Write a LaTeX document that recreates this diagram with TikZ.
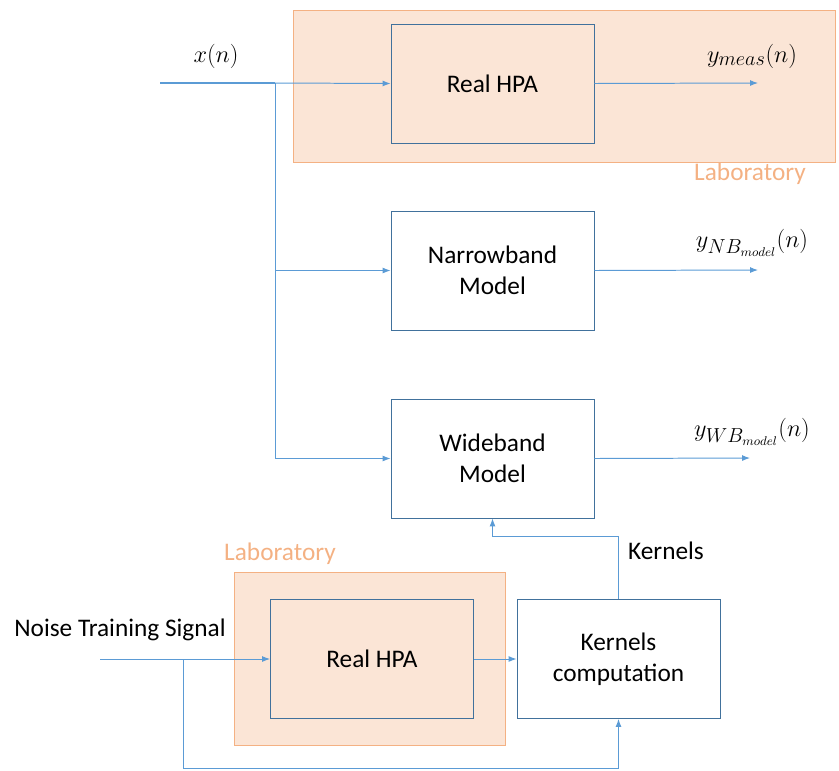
\documentclass[tikz,border=0pt]{standalone}
\usepackage{fontspec}
\setmainfont{Carlito}
\usepackage{amsmath}
\usetikzlibrary{arrows.meta}

\definecolor{labfill}{HTML}{FBE5D6}
\definecolor{labline}{HTML}{F4B183}
\definecolor{boxline}{HTML}{41719C}
\definecolor{sigline}{HTML}{5B9BD5}

\tikzset{
  block/.style={draw=boxline, line width=0.6pt, minimum width=5.075cm, minimum height=2.975cm,
    inner sep=0pt, align=center, font=\fontsize{18}{22}\selectfont},
  sig/.style={draw=sigline, line width=0.7pt},
  labtext/.style={text=labline, font=\fontsize{18}{22}\selectfont},
  plain/.style={font=\fontsize{18}{22}\selectfont},
  mathlbl/.style={font=\fontsize{19}{22}\selectfont}
}

\begin{document}
\begin{tikzpicture}[x=0.025cm, y=-0.025cm, >={Latex[length=2mm,width=1.5mm]}]

\useasboundingbox (0,0) rectangle (839,770);

% laboratory areas
\draw [labline, fill=labfill, line width=0.6pt] (293,10) rectangle (835,162);
\draw [labline, fill=labfill, line width=0.6pt] (234,572) rectangle (505,745);
\node [labtext] (lab1) at (750,174) {Laboratory};
\node [labtext] (lab2) at (280,554) {Laboratory};

% blocks
\node [block, fill=labfill] (hpa) at (492.5,83.5) {Real HPA};
\node [block] (nb) at (492.5,270.5) {Narrowband\\Model};
\node [block] (wb) at (492.5,458.5) {Wideband\\Model};
\node [block, fill=labfill] (hpa2) at (372,659) {Real HPA};
\node [block] (kc) at (618.5,659) {Kernels\\computation};

% signals
\coordinate (in) at (160,83);
\coordinate (split) at (275,83);
\node [mathlbl] (xn) at (216,56) {$x(n)$};

\draw [sig, line width=1.4pt] (in) -- (split);
\draw [sig, ->] (split) -- (hpa.west);
\draw [sig, ->] (split) |- (nb.west);
\draw [sig, ->] (split) |- (wb.west);

\coordinate (out1) at (758,83);
\coordinate (out2) at (758,270);
\coordinate (out3) at (750,458);
\draw [sig, ->] (hpa.east) -- (out1);
\draw [sig, ->] (nb.east) -- (out2);
\draw [sig, ->] (wb.east) -- (out3);

\node [mathlbl] (ymeas) at (752,56) {$y_{meas}(n)$};
\node [mathlbl] (ynb) at (752,243) {$y_{NB_{model}}(n)$};
\node [mathlbl] (ywb) at (752,432) {$y_{WB_{model}}(n)$};

% training part
\node [plain] (noise) at (120,630) {Noise Training Signal};
\coordinate (nin) at (100,659);
\coordinate (split2) at (183,659);
\coordinate (fb) at (183,768);

\draw [sig, ->] (nin) -- (hpa2.west);
\draw [sig, ->] (hpa2.east) -- (kc.west);
\draw [sig, ->] (split2) -- (fb) -| (kc.south);
\draw [sig, ->] (kc.north) -- (kc.north |- 0,536) -| (wb.south);

\node [plain] (kern) at (666,551) {Kernels};

\end{tikzpicture}
\end{document}
